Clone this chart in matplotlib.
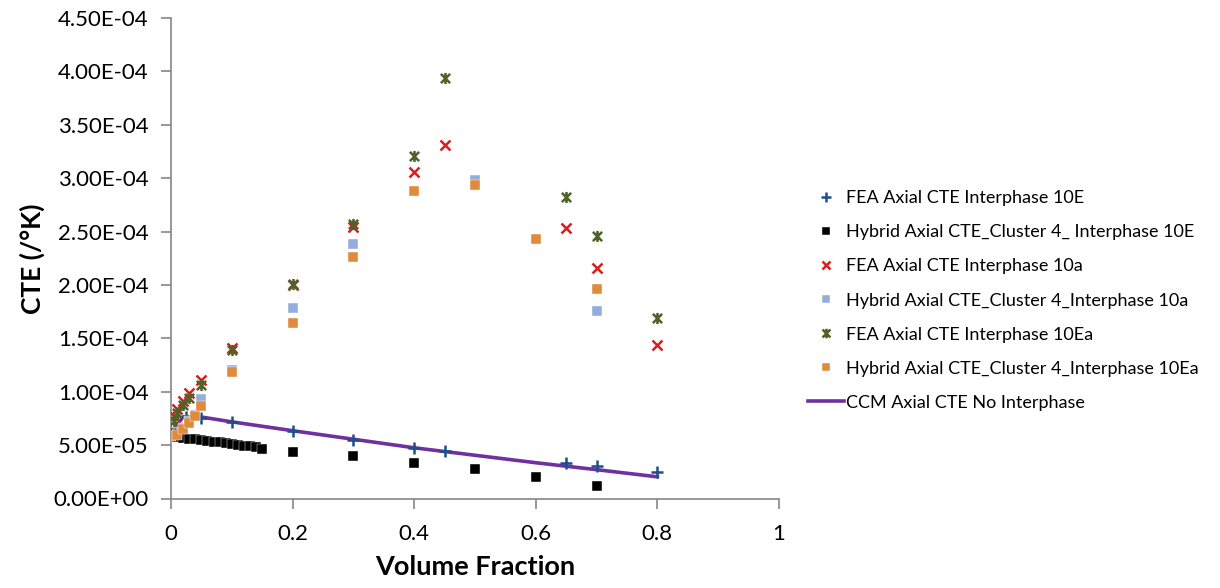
import matplotlib
matplotlib.use("Agg")
import matplotlib.pyplot as plt
from matplotlib.path import Path
from matplotlib.ticker import FuncFormatter, MultipleLocator

plt.rcParams['font.family'] = ['Lato', 'DejaVu Sans']

# CTE values are stored in units of 1e-6 /K
SCALE = 1e-6

# FEA axial CTE, interphase 10E
vf_fea_10e = [0, 0.025, 0.05, 0.1, 0.2, 0.3, 0.4, 0.45, 0.65, 0.7, 0.8]
cte_fea_10e = [61, 76.4, 75.8, 71.2, 63.2, 54.8, 47.7, 44.8, 33.6, 30.3, 24.5]

# Hybrid axial CTE, cluster 4, interphase 10E
vf_hyb_10e = [0, 0.01, 0.02, 0.03, 0.04, 0.05, 0.06, 0.07, 0.08, 0.09, 0.1,
              0.11, 0.12, 0.13, 0.14, 0.15, 0.2, 0.3, 0.4, 0.5, 0.6, 0.7]
cte_hyb_10e = [58.5, 57.6, 56.9, 56.1, 55.4, 54.7, 54.0, 53.3, 52.5, 51.8, 51.0,
               50.3, 49.5, 48.7, 47.8, 46.8, 43.7, 40.2, 33.3, 27.5, 20.1, 11.7]

# FEA axial CTE, interphase 10a
vf_fea_10a = [0, 0.005, 0.01, 0.02, 0.03, 0.05, 0.1, 0.2, 0.3, 0.4, 0.45, 0.65, 0.7, 0.8]
cte_fea_10a = [61, 77, 83.6, 91.5, 98.5, 111, 141, 199.5, 254, 305.6, 331.4, 253.4, 216, 143.8]

# Hybrid axial CTE, cluster 4, interphase 10a
vf_hyb_10a = [0, 0.01, 0.02, 0.03, 0.04, 0.05, 0.1, 0.2, 0.3, 0.4, 0.5, 0.6, 0.7]
cte_hyb_10a = [60, 62, 66, 73, 78, 92.8, 120.5, 178.6, 238, 288, 298, 243, 175.5]

# FEA axial CTE, interphase 10Ea
vf_fea_10ea = [0, 0.005, 0.01, 0.02, 0.03, 0.05, 0.1, 0.2, 0.3, 0.4, 0.45, 0.65, 0.7, 0.8]
cte_fea_10ea = [61, 73, 80, 87.6, 94, 106, 139, 200.5, 257.5, 321, 394, 282.7, 246, 169]

# Hybrid axial CTE, cluster 4, interphase 10Ea
vf_hyb_10ea = [0, 0.01, 0.02, 0.03, 0.04, 0.05, 0.1, 0.2, 0.3, 0.4, 0.5, 0.6, 0.7]
cte_hyb_10ea = [59, 59.5, 64.8, 71, 77, 86.4, 118.3, 164.7, 226, 287.6, 293.4, 243, 196]

# CCM axial CTE, no interphase
vf_ccm = [0, 0.02, 0.05, 0.1, 0.2, 0.3, 0.4, 0.5, 0.6, 0.7, 0.8]
cte_ccm = [61, 76.5, 76.3, 71.8, 63.5, 55.5, 47.5, 40.5, 33.5, 27, 20.3]

labels = [
    "FEA Axial CTE Interphase 10E",
    "Hybrid Axial CTE_Cluster 4_ Interphase 10E",
    "FEA Axial CTE Interphase 10a",
    "Hybrid Axial CTE_Cluster 4_Interphase 10a",
    "FEA Axial CTE Interphase 10Ea",
    "Hybrid Axial CTE_Cluster 4_Interphase 10Ea",
    "CCM Axial CTE No Interphase",
]

# x with a vertical bar through it (spreadsheet-style star marker)
star = Path(
    [(-1, -1), (1, 1), (-1, 1), (1, -1), (0, -1.2), (0, 1.2)],
    [Path.MOVETO, Path.LINETO, Path.MOVETO, Path.LINETO, Path.MOVETO, Path.LINETO],
)


def scaled(vals):
    return [v * SCALE for v in vals]


fig = plt.figure(figsize=(12.2, 5.88), dpi=100)
ax = fig.add_axes([171 / 1220, 1 - 498.5 / 588, 608 / 1220, 480.5 / 588])

ax.plot(vf_ccm, scaled(cte_ccm), color="#7030a0", lw=2.6, zorder=2, label=labels[6])

ax.plot(vf_fea_10e, scaled(cte_fea_10e), ls="none", marker="+", ms=9, mew=1.8,
        color="#1f4e8a", zorder=3, label=labels[0])
ax.plot(vf_hyb_10e, scaled(cte_hyb_10e), ls="none", marker="s", ms=7.3,
        color="black", mec="white", mew=0.3, zorder=3, label=labels[1])
ax.plot(vf_fea_10a, scaled(cte_fea_10a), ls="none", marker="x", ms=7.5, mew=1.8,
        color="#d81e1e", zorder=3, label=labels[2])
ax.plot(vf_hyb_10a, scaled(cte_hyb_10a), ls="none", marker="s", ms=6.8,
        color="#93aedb", mec="white", mew=0.3, zorder=3, label=labels[3])
ax.plot(vf_fea_10ea, scaled(cte_fea_10ea), ls="none", marker=star, ms=8, mew=1.8,
        color="#4f6228", zorder=3, label=labels[4])
ax.plot(vf_hyb_10ea, scaled(cte_hyb_10ea), ls="none", marker="s", ms=6.8,
        color="#e08a3c", mec="white", mew=0.3, zorder=3, label=labels[5])

ax.set_xlim(0, 1)
ax.set_ylim(0, 4.5e-4)
ax.xaxis.set_major_locator(MultipleLocator(0.2))
ax.yaxis.set_major_locator(MultipleLocator(5e-5))
ax.xaxis.set_major_formatter(FuncFormatter(lambda v, p: f"{v:g}"))
ax.yaxis.set_major_formatter(FuncFormatter(lambda v, p: f"{v:.2E}"))

for side in ("top", "right"):
    ax.spines[side].set_visible(False)
for side in ("left", "bottom"):
    ax.spines[side].set_color("#868686")
    ax.spines[side].set_linewidth(1.2)
ax.tick_params(axis="both", colors="#868686", labelcolor="black", labelsize=16,
               length=7, width=1.2, direction="out")
ax.tick_params(axis="y", pad=9)
ax.tick_params(axis="x", pad=11)

ax.set_xlabel("Volume Fraction", fontsize=19.5, fontweight="bold", labelpad=8)
ax.set_ylabel("CTE (/°K)", fontsize=19, fontweight="bold", labelpad=6)

handles, labs = ax.get_legend_handles_labels()
order = [1, 2, 3, 4, 5, 6, 0]
fig.legend([handles[i] for i in order], [labs[i] for i in order],
           loc="center left", bbox_to_anchor=(799 / 1220, 1 - 300.5 / 588),
           frameon=False, fontsize=13, handlelength=2.0, handletextpad=0.12,
           labelspacing=1.0, borderpad=0, markerscale=0.85)

fig.savefig("out.png", dpi=100)
